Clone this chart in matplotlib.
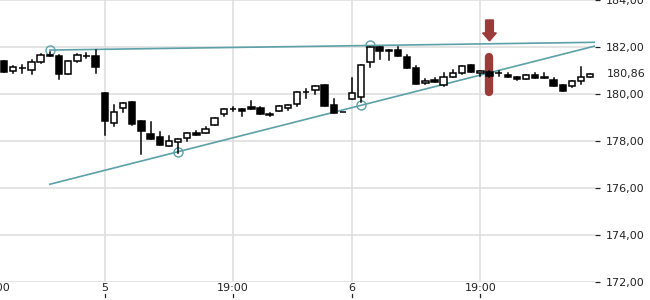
import matplotlib
matplotlib.use("Agg")
import matplotlib.pyplot as plt
from matplotlib.patches import Rectangle
import matplotlib.transforms as mtransforms

# hourly candles, index 0..64
opens = [181.40, 180.98, 181.11, 181.02, 181.36, 181.66, 181.62, 180.85, 181.40, 181.62,
         181.62, 180.04, 178.77, 179.40, 179.66, 178.85, 178.30, 178.17, 177.79, 177.96,
         178.13, 178.34, 178.34, 178.68, 179.15, 179.36, 179.36, 179.45, 179.40, 179.15,
         179.28, 179.40, 179.57, 180.09, 180.17, 180.38, 179.53, 179.23, 179.79, 179.87,
         181.36, 182.00, 181.87, 181.87, 181.57, 181.11, 180.47, 180.60, 180.38, 180.72,
         180.89, 181.23, 180.89, 180.94, 180.89, 180.81, 180.72, 180.64, 180.81, 180.72,
         180.60, 180.38, 180.34, 180.55, 180.72]
highs = [181.42, 181.19, 181.23, 181.45, 181.70, 181.79, 181.66, 181.40, 181.70, 181.74,
         181.87, 180.06, 179.53, 179.62, 179.68, 178.85, 178.81, 178.38, 178.21, 178.09,
         178.34, 178.43, 178.60, 178.98, 179.36, 179.45, 179.36, 179.70, 179.45, 179.19,
         179.49, 179.53, 180.09, 180.21, 180.34, 180.38, 179.79, 179.23, 180.68, 181.23,
         182.00, 182.00, 181.87, 182.00, 181.66, 181.19, 180.64, 180.68, 180.89, 181.02,
         181.19, 181.23, 180.98, 180.98, 180.98, 180.89, 180.72, 180.81, 180.89, 180.89,
         180.68, 180.38, 180.55, 181.15, 180.86]
lows = [180.94, 180.89, 180.89, 180.85, 181.32, 181.60, 180.64, 180.85, 181.36, 181.53,
        180.89, 178.26, 178.64, 179.23, 178.68, 177.45, 178.09, 177.83, 177.79, 177.49,
        178.00, 178.26, 178.34, 178.68, 179.06, 179.28, 179.06, 179.36, 179.15, 179.06,
        179.28, 179.32, 179.49, 179.83, 180.00, 179.49, 179.19, 179.23, 179.79, 179.66,
        181.15, 181.49, 181.45, 181.62, 181.11, 180.43, 180.43, 180.51, 180.34, 180.72,
        180.85, 180.94, 180.77, 180.72, 180.77, 180.72, 180.60, 180.64, 180.68, 180.66,
        180.34, 180.13, 180.30, 180.43, 180.72]
closes = [180.94, 181.15, 181.11, 181.36, 181.66, 181.60, 180.85, 181.40, 181.66, 181.62,
          181.15, 178.85, 179.23, 179.62, 178.72, 178.43, 178.09, 177.83, 178.00, 178.09,
          178.34, 178.26, 178.51, 178.98, 179.36, 179.36, 179.28, 179.36, 179.15, 179.09,
          179.49, 179.53, 180.09, 180.09, 180.34, 179.49, 179.19, 179.23, 180.04, 181.23,
          182.00, 181.83, 181.83, 181.62, 181.11, 180.43, 180.55, 180.51, 180.72, 180.89,
          181.19, 180.94, 180.98, 180.77, 180.89, 180.72, 180.64, 180.81, 180.68, 180.66,
          180.34, 180.13, 180.55, 180.72, 180.86]

# time axis labels (candle index)
tick_pos = [-1, 11, 25, 38, 52]
tick_labels = ["19:00", "5", "19:00", "6", "19:00"]
y_ticks = [172, 174, 176, 178, 180, 182, 184]
last_price = 180.86

# trend lines: (start index, start price, end index, end price), pivot circles
resist_line = (5, 181.87, 64.5, 182.20)
resist_pivots = [5, 40]
support_line = (5, 176.16, 64.5, 182.04)
support_pivots = [19, 39]

# signal marker
signal_idx = 53
signal_range = (180.09, 181.57)
arrow_top, arrow_tip = 183.15, 182.26

teal = "#5ca0a8"
red = "#9b3c3a"

fig = plt.figure(figsize=(6.5, 3.0), dpi=100)
ax = fig.add_axes([0.0, 0.06, 595 / 650, 0.94])
ax.set_xlim(-0.44, 64.52)
ax.set_ylim(172, 184)

for s in ax.spines.values():
    s.set_visible(False)

# grid
ax.set_yticks(y_ticks)
ax.set_yticklabels([f"{v:.2f}".replace(".", ",") for v in y_ticks])
ax.set_xticks([p for p in tick_pos if p >= 0])
ax.set_xticklabels([])
ax.grid(True, color="#dddddd", linewidth=1.1)
ax.set_axisbelow(True)
ax.yaxis.tick_right()
ax.tick_params(axis="y", length=3.6, width=0.9, pad=4.5, labelsize=8, colors="#222222")
ax.tick_params(axis="x", length=0)

trans = mtransforms.blended_transform_factory(ax.transData, ax.transAxes)
for p, lab in zip(tick_pos, tick_labels):
    ax.text(p, -0.005, lab, transform=trans, ha="center", va="top",
            fontsize=8, color="#222222", clip_on=False)
    ax.plot([p, p], [-0.043, -0.053], transform=trans, color="#222222",
            lw=0.9, clip_on=False)

ytrans = mtransforms.blended_transform_factory(ax.transAxes, ax.transData)
ax.text(1.02, last_price, f"{last_price:.2f}".replace(".", ","), transform=ytrans,
        ha="left", va="center", fontsize=8, color="#222222")

# signal bar and arrow (behind candles)
ax.plot([signal_idx, signal_idx], signal_range, color=red, lw=6, solid_capstyle="round",
        zorder=2)
ax.arrow(signal_idx, arrow_top, 0, arrow_tip - arrow_top, width=0.85, head_width=1.5,
         head_length=0.34, length_includes_head=True, color=red, zorder=2)

# trend lines
for (x0, y0, x1, y1), piv in [(resist_line, resist_pivots), (support_line, support_pivots)]:
    ax.plot([x0, x1], [y0, y1], color=teal, lw=1.2, zorder=3)
    slope = (y1 - y0) / (x1 - x0)
    ax.plot(piv, [y0 + slope * (p - x0) for p in piv], "o", ms=6.5, mfc="none",
            mec=teal, mew=1.0, zorder=3)

# candles
w = 0.7
for i, (o, h, l, c) in enumerate(zip(opens, highs, lows, closes)):
    top, bot = max(o, c), min(o, c)
    ax.plot([i, i], [l, h], color="black", lw=1.1, zorder=4)
    fc = "white" if c > o else "black"
    ax.add_patch(Rectangle((i - w / 2, bot), w, top - bot, facecolor=fc,
                           edgecolor="black", lw=1.1, zorder=5))

fig.savefig("out.png", dpi=100)
